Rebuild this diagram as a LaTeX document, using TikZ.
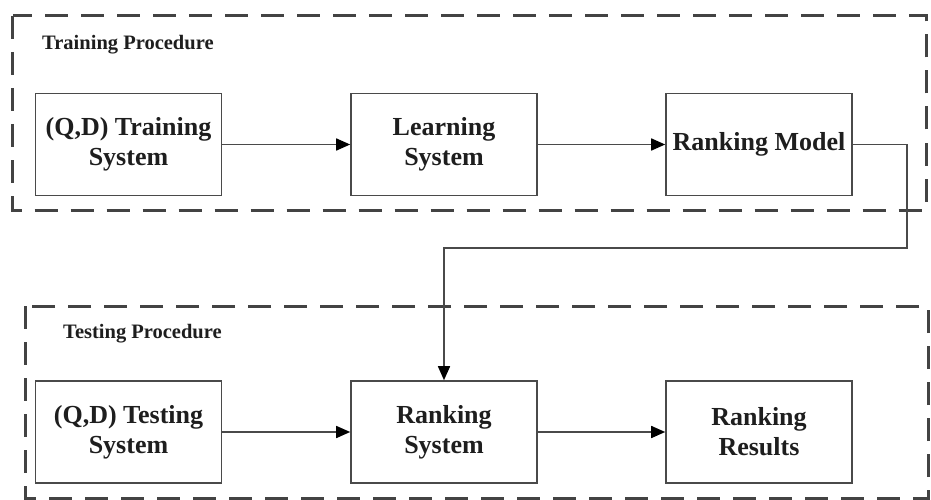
\documentclass[tikz,border=0pt]{standalone}
\usepackage{fontspec}
\setmainfont{Liberation Serif}
\usetikzlibrary{arrows.meta}
\definecolor{boxline}{HTML}{4A4A4A}
\definecolor{txt}{HTML}{1E1E1E}
\begin{document}
\begin{tikzpicture}[x=1pt,y=-1pt,
  stagebox/.style={draw=boxline,line width=1.6pt,minimum width=186pt,minimum height=102pt,inner sep=0pt,align=center,text=txt,font=\fontsize{26}{30}\selectfont\bfseries},
  groupbox/.style={draw=boxline!90!black,line width=3pt,dash pattern=on 23pt off 13pt},
  grouplabel/.style={anchor=west,inner sep=0pt,text=txt,font=\fontsize{20.5}{24}\selectfont\bfseries},
  flow/.style={draw=boxline,line width=1.6pt,-{Triangle[length=14pt,width=12pt,color=black]}}]
\useasboundingbox (0,0) rectangle (931,500);
\fill[white] (0,0) rectangle (931,500);
% group frames
\draw[groupbox] (12.5,16) rectangle (926,210);
\draw[groupbox] (25,306) rectangle (928,498);
\node[grouplabel] (tlab) at (42,45) {Training Procedure};
\node[grouplabel] (slab) at (63,334) {Testing Procedure};
% stages
\node[stagebox] (qdtr) at (128.5,144.5) {(Q,D) Training\\System};
\node[stagebox] (learn) at (444,144.5) {Learning\\System};
\node[stagebox] (model) at (759,144.5) {Ranking Model};
\node[stagebox] (qdte) at (128.5,432) {(Q,D) Testing\\System};
\node[stagebox] (rsys) at (444,432) {Ranking\\System};
\node[stagebox] (rres) at (759,432) {Ranking\\Results};
\coordinate (turn) at (907,248);
% connectors
\draw[flow] (qdtr) -- (learn);
\draw[flow] (learn) -- (model);
\draw[flow] (model.east) -| (turn) -| (rsys.north);
\draw[flow] (qdte) -- (rsys);
\draw[flow] (rsys) -- (rres);
\end{tikzpicture}
\end{document}
